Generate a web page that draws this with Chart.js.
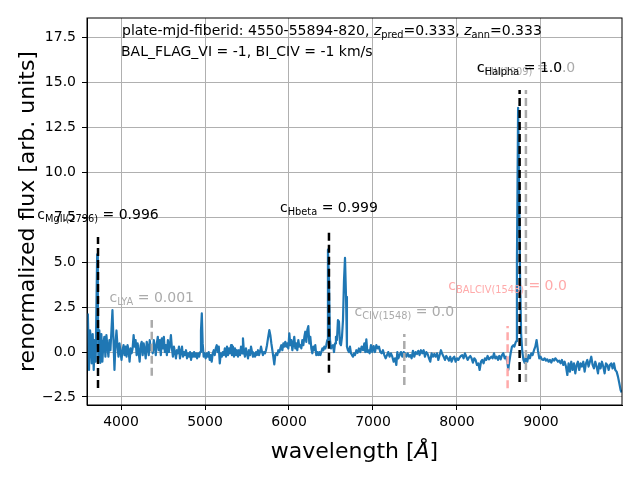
<!DOCTYPE html>
<html>
<head>
<meta charset="utf-8">
<script src="https://cdn.jsdelivr.net/npm/chart.js@4.4.1/dist/chart.umd.min.js"></script>
<style>
  html, body { margin: 0; padding: 0; background: #fff; }
  #wrap { width: 640px; height: 480px; }
</style>
</head>
<body>
<div id="wrap"><canvas id="spec" width="640" height="480"></canvas></div>
<script>
// spectrum
const wavelength = [
  3605, 3619, 3631, 3643, 3651, 3663, 3675, 3687, 3698, 3716, 3724, 3730,
  3742, 3754, 3766, 3778, 3790, 3802, 3814, 3826, 3838, 3850, 3862, 3874,
  3886, 3898, 3910, 3922, 3934, 3946, 3958, 3970, 3982, 3994, 4006, 4018,
  4030, 4042, 4054, 4066, 4078, 4090, 4102, 4114, 4126, 4138, 4150, 4162,
  4174, 4186, 4198, 4210, 4222, 4234, 4246, 4258, 4270, 4282, 4294, 4306,
  4318, 4330, 4342, 4354, 4366, 4378, 4390, 4402, 4414, 4426, 4438, 4450,
  4462, 4474, 4486, 4498, 4510, 4522, 4534, 4546, 4558, 4570, 4582, 4594,
  4606, 4618, 4630, 4642, 4654, 4666, 4678, 4690, 4702, 4714, 4726, 4738,
  4750, 4762, 4774, 4786, 4798, 4810, 4822, 4834, 4846, 4858, 4870, 4882,
  4894, 4906, 4918, 4930, 4942, 4952, 4962, 4972, 4984, 4996, 5008, 5020,
  5032, 5044, 5056, 5068, 5080, 5092, 5104, 5116, 5128, 5140, 5152, 5164,
  5176, 5188, 5200, 5212, 5224, 5236,
  5250, 5262, 5274, 5286, 5298, 5310, 5321, 5333, 5345, 5357, 5369, 5381,
  5393, 5405, 5417, 5429, 5441, 5452, 5464, 5476, 5488, 5500, 5512, 5524,
  5536, 5548, 5560, 5571, 5583, 5595, 5607, 5619, 5631, 5643, 5655, 5667,
  5679, 5690, 5702, 5714, 5726, 5738, 5750, 5766, 5778, 5790, 5802, 5813,
  5825, 5837, 5849, 5861, 5873, 5885, 5897, 5909, 5921, 5933, 5944, 5956,
  5968, 5980, 5992, 6004, 6016, 6028, 6040, 6052, 6063, 6075, 6087, 6099,
  6111, 6123, 6135, 6147, 6159, 6171, 6183, 6194, 6206, 6218, 6230, 6242,
  6254, 6266, 6278, 6290, 6302, 6313, 6325, 6337, 6349, 6361, 6373, 6385,
  6397, 6409, 6421, 6433, 6444, 6456, 6464, 6476, 6488, 6500, 6512, 6524,
  6536, 6548, 6559, 6571, 6583, 6595, 6607, 6619, 6631, 6643, 6655, 6667,
  6679, 6690, 6702, 6714, 6726, 6738, 6750, 6762, 6774,
  6786, 6802, 6817, 6833, 6849, 6865, 6881, 6897, 6909, 6921, 6933, 6944,
  6960, 6976, 6992, 7008, 7024, 7040, 7056, 7071, 7087, 7103, 7119, 7135,
  7151, 7167, 7182, 7198, 7214, 7230, 7246, 7262, 7278, 7290, 7302, 7317,
  7333, 7349, 7365, 7381, 7397, 7413, 7428, 7444, 7460, 7476, 7492, 7508,
  7524, 7540, 7555, 7571, 7587, 7603, 7619, 7635, 7651, 7667, 7682, 7698,
  7714, 7730, 7746, 7762, 7778, 7794, 7809, 7825, 7841, 7857, 7873, 7889,
  7905, 7920, 7936, 7952, 7968, 7984, 8000, 8016, 8032, 8047, 8063, 8079,
  8095, 8111, 8127, 8143, 8159, 8174, 8190, 8206, 8222, 8238, 8254, 8270,
  8286, 8301, 8317, 8333, 8349, 8365, 8381,
  8409, 8425, 8441, 8456, 8472, 8488, 8504, 8520, 8536, 8552, 8568, 8583,
  8599, 8611, 8623, 8639, 8655, 8671, 8683, 8695, 8704, 8714, 8728, 8740,
  8752, 8764, 8778, 8792, 8806, 8822, 8837, 8853, 8869, 8885, 8901, 8917,
  8933, 8948, 8964, 8980, 8996, 9012, 9028, 9044, 9060, 9075, 9091, 9107,
  9123, 9139, 9155, 9171, 9187, 9202, 9218, 9234, 9250, 9266, 9282, 9298,
  9314, 9329, 9345, 9361, 9377, 9393, 9409, 9425, 9440, 9456, 9472, 9488,
  9504, 9520, 9536, 9552, 9567, 9583, 9599, 9615, 9631, 9647, 9663, 9679,
  9694, 9710, 9726, 9742, 9758, 9774, 9790, 9806, 9821, 9837, 9853, 9869,
  9885, 9901, 9917, 9933, 9948, 9962
];
const flux = [
  2.15, -1.0, 1.2, 0.67, -0.63, 1.0, -1.0, 0.67, -0.54, 5.44, 3.07, -0.26,
  1.2, -0.6, 1.0, -0.54, 0.48, 0.85, -0.26, 0.94, 0.3, -0.26, 0.67, 0.1,
  1.2, 2.33, 0.67, -1.0, 0.48, 1.2, 0.3, -0.26, 0.48, 0.0, -0.44, 0.1,
  0.38, -0.17, 0.3, -0.26, 0.38, 0.1, -0.54, 0.2, -0.07, 0.2, 0.94, 0.3,
  0.67, -0.17, 0.48, 0, -0.54, 0.38, 0.57, -0.17, 0.48, 0.1, -0.35, 0.57,
  0.3, -0.17, 0.67, 0.1, 0.38, -0.07, 0.67, 0.3, -0.17, 0.48, 0.85, 0.1,
  0.67, -0.17, 0.76, 0.2, 0.85, 0, 0.38, -0.17, 0.67, 0, 0.38, 0.94,
  0.2, -0.26, 0.3, 0, -0.35, 0.1, -0.07, 0.3, -0.35, 0, 0.3, -0.26,
  0, -0.17, 0.1, -0.35, -0.07, -0.26, 0, -0.44, -0.07, -0.26, 0, -0.26,
  -0.07, -0.35, -0.07, -0.26, 0, 1.2, 2.15, 0.48, -0.26, -0.07, -0.35, -0.07,
  -0.26, 0, -0.44, -0.17, -0.54, -0.07, 0.1, -0.17, 0.2, 0.38, 0, 0.3,
  -0.63, -0.07, -0.26, 0, -0.17, 0.2,
  -0.26, 0.3, -0.17, 0.2, -0.07, 0.38, -0.17, 0.3, -0.26, 0.2, -0.17, 0.1,
  -0.26, 0.1, -0.17, 0.3, -0.07, 0.76, 0, -0.26, 0.2, -0.07, -0.35, 0.1,
  -0.17, 0.3, 0, -0.26, -0.07, -0.26, 0, -0.17, 0.1, -0.17, 0, 0.3,
  0, -0.17, 0, -0.07, 0.1, 0.38, 0.76, 1.22, 0.94, 0.48, 0.1, -0.26,
  -0.69, -0.17, -0.07, -0.17, 0.1, 0, 0.2, 0.38, 0.1, 0.48, 0.3, 0.57,
  0.3, 0.48, 0.2, 1.04, 0.38, 0.67, 0.1, 0.48, 0.85, 0.2, 0.48, 0.1,
  0.67, 0.3, 0.38, 0.2, 0.67, 0.38, 0.85, 1.13, 0.57, 1.22, 1.44, 0.48,
  0.85, 0.2, -0.07, 0.3, 0.1, 0.38, -0.17, 0, -0.17, 0, -0.17, 0,
  0.2, 0.1, 0.3, 0.2, 0.38, 0.67, 5.7, 4.0, 0.67, 0.2, 0.3, 0.38,
  0, 0.48, 0.85, 0.67, 1.78, 1.69, 0.48, 0.38, 0.85, 1.78, 4.0, 5.24,
  3.07, 0.3, 0.1, 0, 0.3, -0.07, -0.17, -0.26, -0.07,
  -0.17, 0.1, -0.04, 0.2, 0, 0.3, 0.1, 0.48, 0, 0.7, 0, 0.1,
  -0.07, 0.38, 0, 0.33, 0, 0.38, 0.2, 0.3, 0, -0.07, 0.1, -0.17,
  -0.35, -0.17, 0, -0.26, -0.07, -0.26, -0.54, -0.35, -0.72, 0, -0.35, -0.17,
  0, -0.26, 0, -0.07, -0.26, -0.07, -0.26, -0.17, -0.35, 0.07, -0.26, 0,
  -0.11, 0.07, -0.17, 0.1, -0.07, 0.1, -0.26, 0, -0.11, -0.35, -0.54, -0.07,
  -0.26, -0.11, -0.26, -0.07, -0.44, -0.17, 0.1, -0.11, -0.26, -0.44, -0.22, -0.35,
  -0.48, -0.26, -0.54, -0.35, -0.26, -0.54, -0.35, -0.44, -0.3, -0.22, -0.17, -0.35,
  -0.07, -0.26, -0.44, -0.3, -0.22, -0.35, -0.59, -0.35, -0.44, -0.72, -0.63, -1.0,
  -0.54, -0.44, -0.63, -0.35, -0.44, -0.22, -0.41,
  -0.26, -0.35, -0.07, -0.35, -0.26, -0.44, -0.22, -0.41, -0.17, -0.07, -0.35, -0.26,
  -0.54, -1.0, -0.54, -0.07, 0.3, 0.38, 0.3, 0.48, 0.6, 5.0, 13.6, 9.0,
  4.0, 1.0, 0.0, -0.45, -0.6, -0.26, -0.54, -0.17, -0.35, -0.07, -0.17, 0.1,
  0.3, 0.67, 0.1, -0.35, -0.26, -0.41, -0.44, -0.35, -0.48, -0.41, -0.54, -0.44,
  -0.59, -0.39, -0.48, -0.35, -0.44, -0.54, -0.48, -0.63, -0.44, -0.72, -0.54, -0.81,
  -1.28, -0.63, -1.09, -0.54, -1.0, -0.63, -1.19, -0.72, -0.54, -1.0, -0.63, -0.81,
  -0.54, -1.09, -0.63, -0.44, -0.81, -0.54, -0.26, -0.72, -0.91, -0.54, -0.81, -1.19,
  -0.63, -0.91, -0.54, -0.81, -1.19, -0.63, -0.72, -1.0, -0.72, -0.63, -0.91, -0.63,
  -1.0, -1.09, -1.37, -1.74, -2.11, -2.25
];

// line markers and their confidences
const lineNames = ['MgII(2796)', 'LYA', 'Hbeta', 'CIV(1548)', 'BALCIV(1548)', 'CIII(1909)', 'Halpha'];
const lineConf = ['0.996', '0.001', '0.999', '0.0', '0.0', '0.0', '1.0'];
const lineWave = [3726, 4366, 6476, 7373, 8603, 8821, 8746];
const lineLow = [-2.0, -1.32, -1.15, -1.84, -2.02, -1.67, -1.67];
const lineHigh = [6.4, 1.78, 6.64, 1.0, 1.45, 14.59, 14.59];
const labelAt = [7.71, 3.06, 8.09, 2.28, 3.73, 15.86, 15.86];

const xTicks = [4000, 5000, 6000, 7000, 8000, 9000];
const yTicks = [-2.5, 0, 2.5, 5, 7.5, 10, 12.5, 15, 17.5];

const lineColors = ['#000000', '#ababab', '#000000', '#ababab', '#ffaaaa', '#ababab', '#000000'];
const FONT = '"DejaVu Sans", sans-serif';

if (wavelength.length !== flux.length) console.log('length mismatch', wavelength.length, flux.length);

function richText(ctx, parts, x, y, size, color, align) {
  const fontOf = p => (p.it ? 'italic ' : '') + (p.sub ? size * 0.7 : size) + 'px ' + FONT;
  let total = 0;
  parts.forEach(p => { ctx.font = fontOf(p); total += ctx.measureText(p.t).width; });
  let cx = align === 'center' ? x - total / 2 : x;
  ctx.fillStyle = color;
  ctx.textAlign = 'left';
  ctx.textBaseline = 'alphabetic';
  parts.forEach(p => {
    ctx.font = fontOf(p);
    ctx.fillText(p.t, cx, p.sub ? y + size * 0.22 : y);
    cx += ctx.measureText(p.t).width;
  });
}

const decorations = {
  id: 'decorations',
  afterDraw(chart) {
    const ctx = chart.ctx;
    const a = chart.chartArea;
    const xs = chart.scales.x, ys = chart.scales.y;
    ctx.save();
    // spines
    ctx.strokeStyle = '#000';
    ctx.lineWidth = 1;
    ctx.strokeRect(a.left, a.top, a.right - a.left, a.bottom - a.top);

    // line labels
    lineNames.forEach((name, i) => {
      const px = xs.getPixelForValue(lineWave[i]);
      const py = ys.getPixelForValue(labelAt[i]) + 5;
      richText(ctx, [{t: 'c'}, {t: name, sub: true}, {t: ' = ' + lineConf[i]}], px, py, 14, lineColors[i], 'center');
    });

    // info text
    richText(ctx, [
      {t: 'plate-mjd-fiberid: 4550-55894-820, '}, {t: 'z', it: true}, {t: 'pred', sub: true},
      {t: '=0.333, '}, {t: 'z', it: true}, {t: 'ann', sub: true}, {t: '=0.333'}
    ], a.left + 35, a.top + 17, 14, '#000', 'left');
    richText(ctx, [{t: 'BAL_FLAG_VI = -1, BI_CIV = -1 km/s'}], a.left + 34, a.top + 38, 14, '#000', 'left');

    // axis titles
    richText(ctx, [{t: 'wavelength ['}, {t: 'Å', it: true}, {t: ']'}], (a.left + a.right) / 2, 458, 22, '#000', 'center');
    ctx.translate(34, (a.top + a.bottom) / 2);
    ctx.rotate(-Math.PI / 2);
    richText(ctx, [{t: 'renormalized flux [arb. units]'}], 0, 0, 22, '#000', 'center');
    ctx.restore();
  }
};

const datasets = [{
  data: wavelength.map((w, i) => ({x: w, y: flux[i]})),
  borderColor: '#1f77b4',
  borderWidth: 2.2,
  borderJoinStyle: 'round',
  pointRadius: 0,
  tension: 0,
  order: 3
}];
lineWave.forEach((w, i) => {
  datasets.push({
    data: [{x: w, y: lineLow[i]}, {x: w, y: lineHigh[i]}],
    borderColor: lineColors[i],
    borderWidth: 2.5,
    borderDash: [8, 4],
    pointRadius: 0,
    order: lineColors[i] === '#000000' ? 1 : 2
  });
});

new Chart(document.getElementById('spec'), {
  type: 'line',
  data: {datasets: datasets},
  options: {
    responsive: false,
    animation: false,
    events: [],
    layout: {padding: {top: 18, right: 18, left: 0, bottom: 0}},
    plugins: {legend: {display: false}, tooltip: {enabled: false}},
    scales: {
      x: {
        type: 'linear',
        min: 3595,
        max: 9965,
        afterBuildTicks: s => { s.ticks = xTicks.map(v => ({value: v})); },
        afterFit: s => { s.height = 75; },
        ticks: {autoSkip: false, maxRotation: 0, padding: 4, color: '#000',
                font: {family: FONT, size: 14}, callback: v => String(v)},
        grid: {color: '#b0b0b0', lineWidth: 1, tickLength: 5, tickColor: '#000', tickWidth: 1},
        border: {color: '#000', width: 1}
      },
      y: {
        type: 'linear',
        min: -2.95,
        max: 18.6,
        afterBuildTicks: s => { s.ticks = yTicks.map(v => ({value: v})); },
        afterFit: s => { s.width = 87; },
        ticks: {autoSkip: false, padding: 6, color: '#000',
                font: {family: FONT, size: 14},
                callback: v => (v < 0 ? '\u2212' : '') + Math.abs(v).toFixed(1)},
        grid: {color: '#b0b0b0', lineWidth: 1, tickLength: 5, tickColor: '#000', tickWidth: 1},
        border: {color: '#000', width: 1}
      }
    }
  },
  plugins: [decorations]
});
</script>
</body>
</html>
